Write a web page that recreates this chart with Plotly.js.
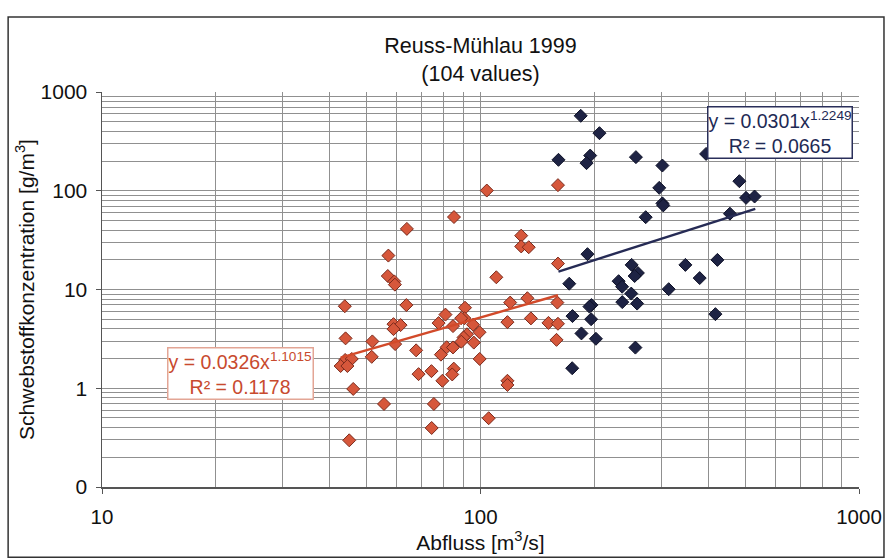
<!DOCTYPE html>
<html>
<head>
<meta charset="utf-8">
<script src="https://cdn.plot.ly/plotly-3.0.1.min.js"></script>
<style>
html,body{margin:0;padding:0;background:#fff;}
#chart{width:894px;height:560px;}
</style>
</head>
<body>
<div id="chart"></div>
<script>
// Orange series (Abfluss < ~160 m3/s)
const orangeX = [103.9,160.2,85.1,63.9,128.1,128.1,134.1,57.1,160.2,56.9,59.2,59.4,110.1,43.8,63.7,119.8,133.0,159.6,80.8,91.0,90.7,88.9,77.5,84.6,95.6,99.4,92.1,90.2,89.0,96.0,58.9,61.5,58.9,44.0,51.8,59.5,67.6,81.4,84.6,117.8,135.9,151.2,160.2,158.8,51.6,43.9,45.7,42.7,44.5,78.6,99.5,68.6,74.2,79.3,85.0,84.2,46.1,55.6,75.3,117.8,117.8,105.1,74.3,45.0];
const orangeY = [100.5,114,54.2,41.1,35.1,27.3,26.8,22.05,18.3,13.7,12.08,11.2,13.3,6.77,6.95,7.37,8.16,7.37,5.57,6.54,5.12,5.12,4.57,4.26,4.40,3.69,3.52,3.27,2.96,2.90,4.46,4.36,3.97,3.20,2.98,2.80,2.42,2.60,2.59,4.67,5.10,4.59,4.50,3.09,2.08,1.935,1.98,1.68,1.68,2.19,1.98,1.39,1.49,1.19,1.58,1.38,0.984,0.693,0.693,1.19,1.08,0.497,0.396,0.297];
// Dark blue series (Abfluss > ~160 m3/s)
const blueX = [184.0,206.2,160.7,194.9,190.6,257.4,302.4,296.6,302.4,304.0,273.2,394.5,483,503,529.8,456,191.7,250.8,260.5,255.4,347.8,422.6,379.4,314.2,171.6,231.7,236.7,250.2,236.9,259.3,196.4,194.0,196.0,175.0,184.8,201.8,256.6,417.5,174.7];
const blueY = [574,383,205.6,227,190.4,219,180,107,74.5,71.1,54,236,125,84.7,87.4,58.6,22.8,17.75,14.7,13.7,17.75,19.95,13.05,10.07,11.45,12.14,10.67,9.09,7.45,7.2,6.95,6.71,5.0,5.38,3.59,3.17,2.58,5.63,1.595];
// Power-law trend lines (end points)
const orangeTrendX = [42.7, 160.2];
const orangeTrendY = [2.04, 8.75];
const blueTrendX = [160.7, 532];
const blueTrendY = [15.2, 65.7];
// Tick labels
const yTickVals = [0.1, 1, 10, 100, 1000];
const yTickText = ['0', '1', '10', '100', '1000'];
const xTickVals = [10, 100, 1000];
const xTickText = ['10', '100', '1000'];

const orangeCol = '#d6573b';
const blueCol = '#1e2344';
const font = 'Liberation Sans, Arial, sans-serif';

const traces = [
  {x: orangeX, y: orangeY, type: 'scatter', mode: 'markers',
   marker: {symbol: 'diamond', size: 10, color: orangeCol, line: {color: '#7a2a1c', width: 1}}},
  {x: blueX, y: blueY, type: 'scatter', mode: 'markers',
   marker: {symbol: 'diamond', size: 10, color: blueCol, line: {color: '#0f1228', width: 1}}},
  {x: orangeTrendX, y: orangeTrendY, type: 'scatter', mode: 'lines',
   line: {color: '#d24a2a', width: 2.4}},
  {x: blueTrendX, y: blueTrendY, type: 'scatter', mode: 'lines',
   line: {color: '#262b55', width: 2.4}}
];

const gridCol = '#909090';
const layout = {
  width: 894, height: 560,
  margin: {l: 102, r: 35, t: 92, b: 73},
  paper_bgcolor: '#fff', plot_bgcolor: '#fff',
  showlegend: false,
  font: {family: font, color: '#111'},
  title: {text: 'Reuss-Mühlau 1999<br>(104 values)', font: {size: 21.5, family: font, color: '#111'},
          x: 0.5, xref: 'paper', xanchor: 'center', y: 0.905, yref: 'container', yanchor: 'top'},
  xaxis: {type: 'log', range: [1, 3], tickmode: 'array', tickvals: xTickVals, ticktext: xTickText,
          showgrid: true, gridcolor: gridCol, gridwidth: 1,
          minor: {dtick: 'D1', showgrid: true, gridcolor: gridCol, gridwidth: 1, ticks: ''},
          ticks: 'outside', ticklen: 5, tickcolor: '#555', ticklabelstandoff: 6,
          showline: true, linecolor: '#555', linewidth: 1.5, mirror: false, zeroline: false,
          tickfont: {size: 20.5, family: font, color: '#111'},
          title: {text: 'Abfluss [m<sup>3</sup>/s]', font: {size: 21, family: font, color: '#111'}, standoff: 0}},
  yaxis: {type: 'log', range: [-1, 3], tickmode: 'array', tickvals: yTickVals, ticktext: yTickText,
          showgrid: true, gridcolor: gridCol, gridwidth: 1,
          minor: {dtick: 'D1', showgrid: true, gridcolor: gridCol, gridwidth: 1, ticks: ''},
          ticks: 'outside', ticklen: 5, tickcolor: '#555', ticklabelstandoff: 4,
          showline: true, linecolor: '#555', linewidth: 1.5, zeroline: false,
          tickfont: {size: 21, family: font, color: '#111'},
          title: {text: 'Schwebstoffkonzentration [g/m<sup>3</sup>]', font: {size: 21, family: font, color: '#111'}, standoff: 0}},
  shapes: [
    {type: 'rect', xref: 'paper', yref: 'paper', x0: -0.124, x1: 1.033, y0: -0.178, y1: 1.19,
     line: {color: '#333', width: 1.5}, fillcolor: 'rgba(0,0,0,0)', layer: 'below'}
  ],
  annotations: [
    {xref: 'paper', yref: 'paper', x: 0.896, y: 0.965, xanchor: 'center', yanchor: 'top', showarrow: false,
     text: 'y = 0.0301x<sup>1.2249</sup><br>R² = 0.0665', align: 'center',
     font: {size: 19.5, family: font, color: '#1e2a55'}, bgcolor: '#fff', bordercolor: '#2a2f5a', borderwidth: 1.5, borderpad: 0},
    {xref: 'paper', yref: 'paper', x: 0.1836, y: 0.354, xanchor: 'center', yanchor: 'top', showarrow: false,
     text: 'y = 0.0326x<sup>1.1015</sup><br>R² = 0.1178', align: 'center',
     font: {size: 19.5, family: font, color: '#c84a2e'}, bgcolor: '#fff', bordercolor: '#e3a595', borderwidth: 1.5, borderpad: 0}
  ]
};

Plotly.newPlot('chart', traces, layout, {displayModeBar: false, staticPlot: true});
</script>
</body>
</html>
